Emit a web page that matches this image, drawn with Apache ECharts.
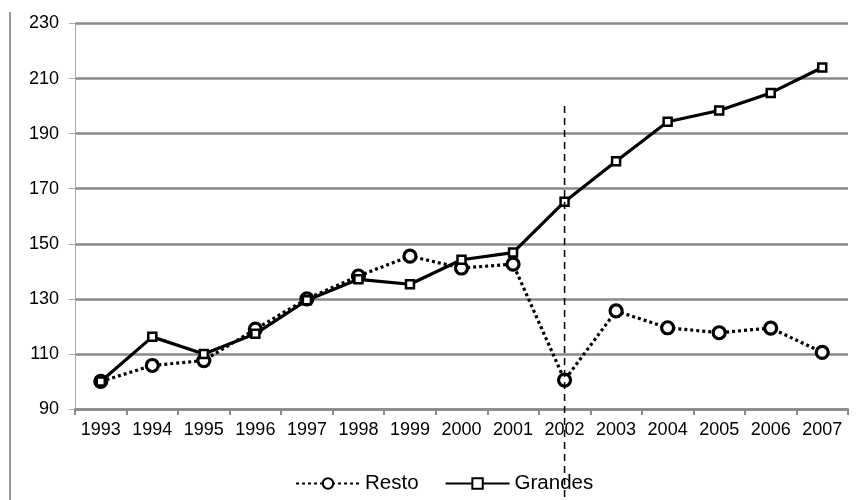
<!DOCTYPE html>
<html style="height: 100%">
<head>
<meta charset="utf-8">
<script src="https://cdn.jsdelivr.net/npm/echarts@6/dist/echarts.min.js"></script>
</head>
<body style="height: 100%; margin: 0; background: #fff">
<div id="container" style="width: 857px; height: 500px"></div>
<script>
var years = ['1993', '1994', '1995', '1996', '1997', '1998', '1999', '2000',
             '2001', '2002', '2003', '2004', '2005', '2006', '2007'];
var resto = [100, 105.8, 107.6, 119, 130, 138.3, 145.5, 141.2, 142.6, 100.5, 125.6, 119.5, 117.7, 119.4, 110.6];
var grandes = [100, 116.2, 110, 117.3, 129.5, 137.1, 135.3, 144.2, 146.8, 165.3, 180, 194.3, 198.4, 204.8, 214];
var markYear = '2002';
var markTop = 200;

var dom = document.getElementById('container');
var myChart = echarts.init(dom);

var option = {
  animation: false,
  textStyle: { fontFamily: 'Liberation Sans, Arial, sans-serif' },
  grid: { left: 75, right: 9, top: 23.5, bottom: 91 },
  legend: {
    left: 290,
    top: 468,
    itemWidth: 64,
    itemHeight: 13,
    itemGap: 26,
    textStyle: { fontSize: 20.5, color: '#000' },
    data: ['Resto', 'Grandes']
  },
  xAxis: {
    type: 'category',
    data: years,
    boundaryGap: true,
    axisLine: { lineStyle: { color: '#8a8a8a', width: 2.5 } },
    axisTick: { show: true, interval: 0, length: 6, lineStyle: { color: '#8a8a8a', width: 2 } },
    axisLabel: { interval: 0, color: '#000', fontSize: 18, margin: 12 }
  },
  yAxis: {
    type: 'value',
    min: 90,
    max: 230,
    interval: 20,
    axisLine: { show: true, lineStyle: { color: '#aaa', width: 1 } },
    axisTick: { show: true, length: 6, lineStyle: { color: '#aaa' } },
    axisLabel: { color: '#000', fontSize: 18, margin: 16 },
    splitLine: { lineStyle: { color: '#8a8a8a', width: 2.5 } }
  },
  series: [
    {
      name: 'Resto',
      type: 'line',
      data: resto,
      symbol: 'circle',
      symbolSize: 12,
      lineStyle: { color: '#000', width: 3.2, type: [3, 3] },
      itemStyle: { color: '#fff', borderColor: '#000', borderWidth: 3.2 }
    },
    {
      name: 'Grandes',
      type: 'line',
      data: grandes,
      symbol: 'rect',
      symbolSize: 8,
      lineStyle: { color: '#000', width: 3.2 },
      itemStyle: { color: '#fff', borderColor: '#000', borderWidth: 2.5 }
    }
  ]
};

myChart.setOption(option);

// dashed marker at 2002 and the frame line on the left
var mx = myChart.convertToPixel({ xAxisIndex: 0 }, markYear);
var my = myChart.convertToPixel({ yAxisIndex: 0 }, markTop);
myChart.setOption({
  graphic: [
    {
      type: 'line',
      shape: { x1: mx, y1: my, x2: mx, y2: myChart.getHeight() },
      style: { stroke: '#000', lineWidth: 1.5, lineDash: [7, 5] },
      z: 10
    },
    {
      type: 'line',
      shape: { x1: 10, y1: 12, x2: 10, y2: myChart.getHeight() },
      style: { stroke: '#999', lineWidth: 2 }
    }
  ]
});
</script>
</body>
</html>
